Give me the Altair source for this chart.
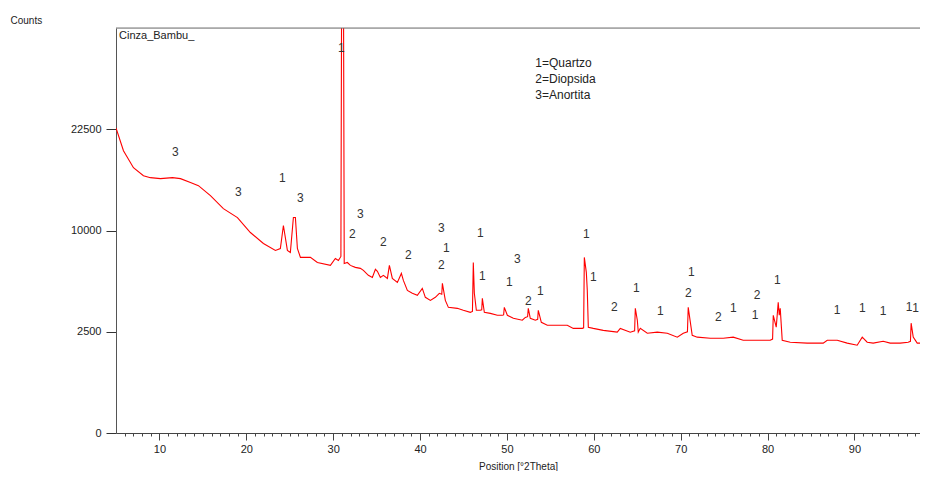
import altair as alt
import pandas as pd

# ---- diffraction profile (2theta, counts) ----
two_theta = [5.0, 5.86, 7.01, 8.16, 8.96, 10.12, 11.50, 12.42, 13.57, 14.49, 15.87, 17.36, 18.98, 20.47,
             21.97, 23.35, 23.92, 24.27, 24.73, 25.07, 25.42, 25.65, 25.88, 26.23, 27.38, 28.18, 29.68,
             30.25, 30.60, 30.89, 30.90, 30.99, 31.17, 31.25, 31.27, 31.63, 31.98, 32.55, 33.13, 33.48,
             34.05, 34.51, 34.86, 35.09, 35.43, 35.78, 36.24, 36.47, 36.81, 37.39, 37.85, 38.08, 38.54,
             39.11, 39.69, 40.26, 40.61, 41.19, 41.76, 42.22, 42.50, 42.57, 42.91, 43.26, 44.29, 44.98,
             45.79, 46.03, 46.13, 46.25, 46.48, 46.94, 47.10, 47.17, 47.40, 48.09, 48.90, 49.47, 49.62,
             49.70, 50.05, 50.74, 51.77, 52.12, 52.38, 52.46, 52.69, 53.27, 53.54, 53.61, 53.96, 54.65,
             55.80, 56.95, 57.64, 58.68, 58.83, 58.91, 59.14, 59.25, 59.37, 59.94, 61.09, 62.70, 63.05,
             64.20, 64.70, 64.78, 65.01, 65.12, 65.35, 66.16, 67.31, 68.46, 69.61, 70.30, 70.78, 70.87,
             71.33, 71.91, 73.41, 74.90, 76.05, 77.20, 78.35, 80.31, 80.58, 80.66, 81.00, 81.23, 81.35,
             81.46, 81.69, 82.61, 84.57, 86.41, 86.87, 88.02, 89.17, 90.32, 90.90, 91.47, 92.16, 93.31,
             94.12, 95.27, 96.19, 96.45, 96.53, 96.77, 97.23, 97.92, 98.38]
counts = [22700, 19430, 17170, 16150, 15900, 15780, 15900, 15780, 15290, 14920, 13740, 12280, 11320, 9800,
          8760, 8130, 8300, 10500, 8130, 7950, 11320, 11320, 8300, 7520, 7520, 7090, 6850,
          7430, 7260, 7600, 11750, 60000, 60000, 14330, 7010, 7090, 6850, 6690, 6610, 6450,
          6060, 5900, 6530, 6370, 5900, 6060, 5830, 6850, 5830, 5530, 6210, 5680, 4960,
          4760, 4620, 5100, 4490, 4290, 4490, 4760, 4700, 5460, 4290, 3850, 3790, 3670,
          3550, 3600, 7090, 4760, 3670, 3670, 3700, 4420, 3550, 3490, 3380, 3380, 3400,
          3850, 3380, 3210, 3100, 3260, 3300, 3790, 3210, 3100, 3150, 3670, 2990, 2830,
          2830, 2830, 2670, 2670, 2700, 7520, 6290, 4960, 2730, 2670, 2570, 2480, 2670,
          2480, 2550, 3790, 3100, 2480, 2670, 2430, 2480, 2430, 2240, 2430, 2500, 3850,
          2330, 2240, 2190, 2190, 2240, 2100, 2100, 2100, 2150, 3380, 2730, 4160, 3380,
          3790, 2100, 2010, 1970, 1970, 2100, 2100, 1970, 1880, 2240, 2010, 1970, 2050,
          1970, 1970, 2010, 2050, 2940, 2240, 1970, 1970, 2240]

# ---- phase labels ----
label_x = [30.94, 11.84, 19.09, 24.15, 26.23, 33.13, 32.21, 35.78, 38.65, 42.45, 43.03, 42.45,
           46.94, 47.17, 51.20, 50.28, 52.46, 53.84, 59.14, 59.94, 62.36, 64.89, 67.65, 71.22,
           70.87, 74.33, 76.05, 78.81, 78.58, 81.12, 88.02, 90.90, 93.31, 96.30, 97.05]
label_y = [36150, 19300, 14210, 15900, 13520, 11740, 9700, 8850, 7690, 10200, 8390, 6850,
           9800, 5980, 7350, 5530, 4230, 4890, 9610, 5900, 3850, 5100, 3610, 6290,
           4760, 3260, 3790, 4620, 3380, 5680, 3670, 3790, 3610, 3850, 3790]
label_text = ["1", "3", "3", "1", "3", "3", "2", "2", "2", "3", "1", "2",
              "1", "1", "3", "1", "2", "1", "1", "1", "2", "1", "1", "1",
              "2", "2", "1", "2", "1", "1", "1", "1", "1", "1", "1"]

legend_text = ["1=Quartzo", "2=Diopsida", "3=Anortita"]
legend_x = [53.27, 53.27, 53.27]
legend_y = [33400, 30580, 27890]

sample_text = ["Cinza_Bambu_"]
sample_x = [5.35]
sample_y = [38400]

x_major = [10, 20, 30, 40, 50, 60, 70, 80, 90]
x_minor = list(range(6, 98))
y_ticks = [0, 2500, 10000, 22500]

X_DOMAIN = [5, 97.55]
Y_DOMAIN = [0, 40000]
W, H = 804, 405
FONT = "Liberation Sans"

profile = pd.DataFrame({"t": two_theta, "c": counts})
labels = pd.DataFrame({"t": label_x, "c": label_y, "s": label_text})
legend = pd.DataFrame({"t": legend_x, "c": legend_y, "s": legend_text})
sample = pd.DataFrame({"t": sample_x, "c": sample_y, "s": sample_text})

xscale = alt.Scale(domain=X_DOMAIN, nice=False, zero=False)
yscale = alt.Scale(type="sqrt", domain=Y_DOMAIN, nice=False)

line = alt.Chart(profile).mark_line(color="#ff0000", strokeWidth=1.1, clip=True).encode(
    x=alt.X("t:Q", scale=xscale,
            axis=alt.Axis(values=x_major, title="Position [°2Theta]", grid=False, orient="bottom",
                          tickSize=7, tickColor="#444", domainColor="#444",
                          labelFont=FONT, labelFontSize=11, labelColor="#222", labelPadding=3,
                          titleFont=FONT, titleFontSize=10, titleFontWeight="normal",
                          titleColor="#222", titleBaseline="alphabetic", titleY=36)),
    y=alt.Y("c:Q", scale=yscale,
            axis=alt.Axis(values=y_ticks, title="Counts", grid=False, format="d",
                          tickSize=10, tickColor="#333", domainColor="#555",
                          labelFont=FONT, labelFontSize=11, labelColor="#222", labelPadding=5,
                          titleFont=FONT, titleFontSize=10, titleFontWeight="normal",
                          titleColor="#222", titleAngle=0, titleAlign="left",
                          titleBaseline="alphabetic", titleX=-106, titleY=-5)),
)

phase = alt.Chart(labels).mark_text(font=FONT, fontSize=12, color="#333", baseline="middle").encode(
    x=alt.X("t:Q", scale=xscale,
            axis=alt.Axis(values=x_minor, labels=False, title=None, grid=False, domain=False,
                          orient="bottom", tickSize=3, tickColor="#444")),
    y=alt.Y("c:Q", scale=yscale),
    text="s:N",
)

leg = alt.Chart(legend).mark_text(font=FONT, fontSize=12, color="#222", align="left",
                                  baseline="middle").encode(
    x=alt.X("t:Q", scale=xscale, axis=None),
    y=alt.Y("c:Q", scale=yscale),
    text="s:N",
)

samp = alt.Chart(sample).mark_text(font=FONT, fontSize=11, color="#222", align="left",
                                   baseline="middle").encode(
    x=alt.X("t:Q", scale=xscale, axis=None),
    y=alt.Y("c:Q", scale=yscale),
    text="s:N",
)

top_border = alt.Chart(sample).mark_rule(color="#777", strokeWidth=1).encode(
    x=alt.value(0), x2=alt.value(W), y=alt.value(0)
)

chart = alt.layer(line, phase, leg, samp, top_border).resolve_axis(x="independent").properties(
    width=W, height=H,
    autosize=alt.AutoSizeParams(type="none"),
    padding={"left": 108, "top": 20, "right": 0, "bottom": 38},
).configure_view(stroke=None).configure(background="white")

chart.save("out.html", embed_options={"renderer": "svg", "actions": False})
